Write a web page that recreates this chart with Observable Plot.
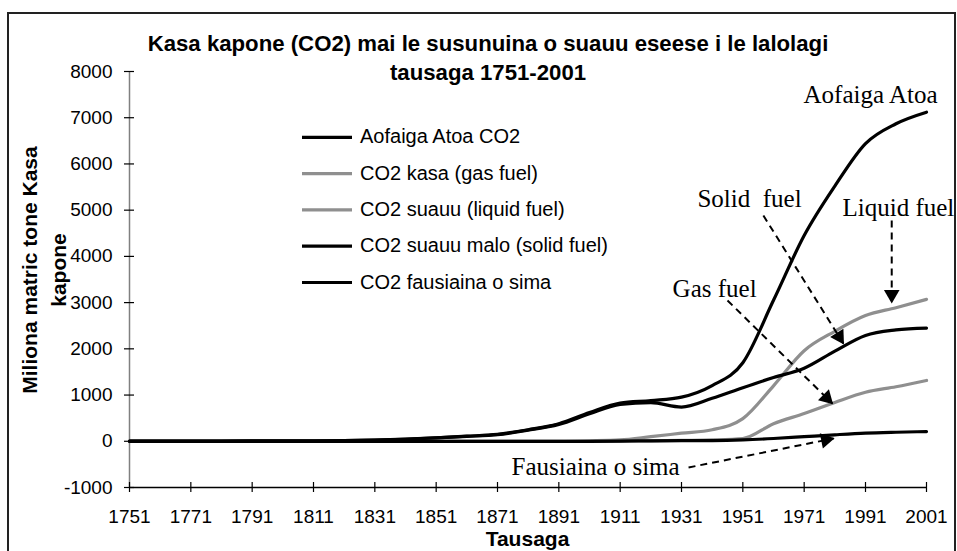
<!DOCTYPE html>
<html><head><meta charset="utf-8">
<script src="https://cdn.jsdelivr.net/npm/d3@7"></script>
<script src="https://cdn.jsdelivr.net/npm/@observablehq/plot@0.6"></script>
<style>
html,body{margin:0;padding:0;background:#fff;}
#wrap{position:relative;width:957px;height:551px;overflow:hidden;background:#fff;}
#box{position:absolute;left:7px;top:12px;width:949px;height:620px;border:2px solid #222;box-sizing:border-box;}
#chart{position:absolute;left:0;top:0;}
#overlay{position:absolute;left:0;top:0;}
</style></head><body>
<div id="wrap"><div id="box"></div><div id="chart"></div><svg id="overlay" width="957" height="551"></svg></div>
<script>
// ---- data (million metric tonnes of carbon) ----
const years  = [1751,1761,1771,1781,1791,1801,1811,1821,1831,1841,1851,1861,1871,1881,1891,1901,1911,1921,1931,1941,1951,1961,1971,1981,1991,1996,2001];
const total  = [3,3,4,5,7,8,10,14,25,45,75,110,150,250,380,620,825,880,955,1205,1700,3050,4450,5520,6440,6870,7120];
const gas    = [0,0,0,0,0,0,0,0,0,0,0,0,0,0,0,0,5,10,20,30,60,380,600,840,1060,1180,1316];
const liquid = [0,0,0,0,0,0,0,0,0,0,0,0,0,0,0,10,30,100,175,250,490,1200,1960,2380,2720,2890,3070];
const solid  = [3,3,4,5,7,8,10,14,24,44,72,105,145,240,365,595,800,835,740,930,1160,1380,1580,1950,2290,2410,2450];
const cement = [0,0,0,0,0,0,0,0,0,0,0,0,0,0,0,0,5,8,12,15,30,60,100,140,175,195,210];

const seriesNames = ["Aofaiga Atoa CO2","CO2 kasa (gas fuel)","CO2 suauu (liquid fuel)","CO2 suauu malo (solid fuel)","CO2 fausiaina o sima"];
const seriesValues = [total, gas, liquid, solid, cement];

const xTicks = [1751,1771,1791,1811,1831,1851,1871,1891,1911,1931,1951,1971,1991,2001];
const yTicks = [-1000,0,1000,2000,3000,4000,5000,6000,7000,8000];

const titleLines = ["Kasa kapone (CO2) mai le susunuina o suauu eseese i le lalolagi","tausaga 1751-2001"];
const yLabelLines = ["Miliona matric tone Kasa","kapone"];
const xLabel = "Tausaga";

// annotations (data coordinates, text starts at x)
const notes = [
  {text:"Aofaiga Atoa", x:1970.8, y:7329},
  {text:"Solid  fuel", x:1936.2, y:5058},
  {text:"Liquid fuel", x:1983.5, y:4863},
  {text:"Gas fuel", x:1928.1, y:3132},
  {text:"Fausiaina o sima", x:1875.6, y:-740}
];
const arrows = [
  {x1:1957.7, y1:4885, x2:1983.8, y2:2115},
  {x1:1995.3, y1:4776, x2:1995.3, y2:3002},
  {x1:1946.0, y1:3046, x2:1980.2, y2:817},
  {x1:1933.3, y1:-567, x2:1980.6, y2:60}
];

// ---- styles ----
const BLACK = "#000000", GRAY = "#8f8f8f";
const colors = [BLACK, GRAY, GRAY, BLACK, BLACK];

const rows = [];
seriesNames.forEach((name, k) => years.forEach((yr, i) => rows.push({series: name, year: yr, value: seriesValues[k][i]})));

const xScale = {type: "linear", domain: [1751, 1991, 2001], range: [129, 865, 926]};
const yScale = {type: "linear", domain: [-1000, 8000], range: [487, 71]};

const xs = Plot.scale({x: xScale}), ys = Plot.scale({y: yScale});
const heads = arrows.map(a => {
  const px1 = xs.apply(a.x1), py1 = ys.apply(a.y1), px2 = xs.apply(a.x2), py2 = ys.apply(a.y2);
  const dx = px2 - px1, dy = py2 - py1, len = Math.hypot(dx, dy);
  const cx = px2 - dx / len * 8, cy = py2 - dy / len * 8;
  return {x: xs.invert(cx), y: ys.invert(cy), angle: Math.atan2(dx, -dy) * 180 / Math.PI};
});

const lineMarks = seriesNames.map((name, k) =>
  Plot.line(rows.filter(d => d.series === name), {x: "year", y: "value", stroke: colors[k], strokeWidth: 3.2, strokeLinejoin: "round", curve: "monotone-x"})
);

const plot = Plot.plot({
  width: 957, height: 551,
  marginLeft: 129, marginRight: 31, marginTop: 71, marginBottom: 64,
  x: xScale, y: yScale,
  style: {fontFamily: "'Liberation Sans', Arial, sans-serif", fontSize: "19px", color: "#000", background: "transparent", overflow: "visible"},
  marks: [
    Plot.ruleX([1751], {stroke: "#808080", strokeWidth: 1.5}),
    Plot.ruleY([-1000], {stroke: "#000", strokeWidth: 1.3}),
    Plot.ruleY(yTicks, {x1: 1751, x2: 1751, insetLeft: 5, insetRight: 5, stroke: "#000", strokeWidth: 1.2}),
    Plot.ruleX(xTicks, {y1: -1000, y2: -1000, insetTop: 5, insetBottom: 5, stroke: "#000", strokeWidth: 1.2}),
    Plot.axisX(xTicks, {tickSize: 0, tickPadding: 22, tickFormat: d => String(d), fontSize: 19, label: null}),
    Plot.axisY(yTicks, {tickSize: 0, tickPadding: 17, tickFormat: d => String(d), fontSize: 19, label: null}),
    ...lineMarks,
    Plot.link(arrows, {x1: "x1", y1: "y1", x2: "x2", y2: "y2", stroke: "#000", strokeWidth: 2, strokeDasharray: "7,5"}),
    Plot.dot(heads, {x: "x", y: "y", symbol: "triangle", r: 5.8, fill: "#000", stroke: "none", rotate: "angle"}),
    Plot.text(notes, {x: "x", y: "y", text: "text", textAnchor: "start", lineAnchor: "bottom", fontFamily: "'Liberation Serif', 'Times New Roman', serif", fontSize: 25, fill: "#000"})
  ]
});
document.getElementById("chart").appendChild(plot);

// ---- overlay: title, axis titles, legend ----
const ov = d3.select("#overlay");
const SANS = "'Liberation Sans', Arial, sans-serif";
ov.selectAll("text.title").data(titleLines).join("text").attr("class", "title")
  .attr("x", 488).attr("y", (d, i) => i === 0 ? 51 : 80)
  .attr("text-anchor", "middle").attr("font-family", SANS).attr("font-weight", "bold").attr("font-size", 22.2).text(d => d);
ov.selectAll("text.ylab").data(yLabelLines).join("text").attr("class", "ylab")
  .attr("transform", (d, i) => `translate(${i === 0 ? 37 : 66},270) rotate(-90)`)
  .attr("text-anchor", "middle").attr("font-family", SANS).attr("font-weight", "bold").attr("font-size", 21).text(d => d);
ov.append("text").attr("x", 527.5).attr("y", 546).attr("text-anchor", "middle")
  .attr("font-family", SANS).attr("font-weight", "bold").attr("font-size", 21).text(xLabel);

const lg = ov.append("g");
seriesNames.forEach((name, k) => {
  const base = 143.3 + k * 36.3;
  lg.append("line").attr("x1", 302).attr("x2", 352).attr("y1", base - 6).attr("y2", base - 6)
    .attr("stroke", colors[k]).attr("stroke-width", 3.2);
  lg.append("text").attr("x", 360).attr("y", base).attr("font-family", SANS).attr("font-size", 20).text(name);
});
</script>
</body></html>
